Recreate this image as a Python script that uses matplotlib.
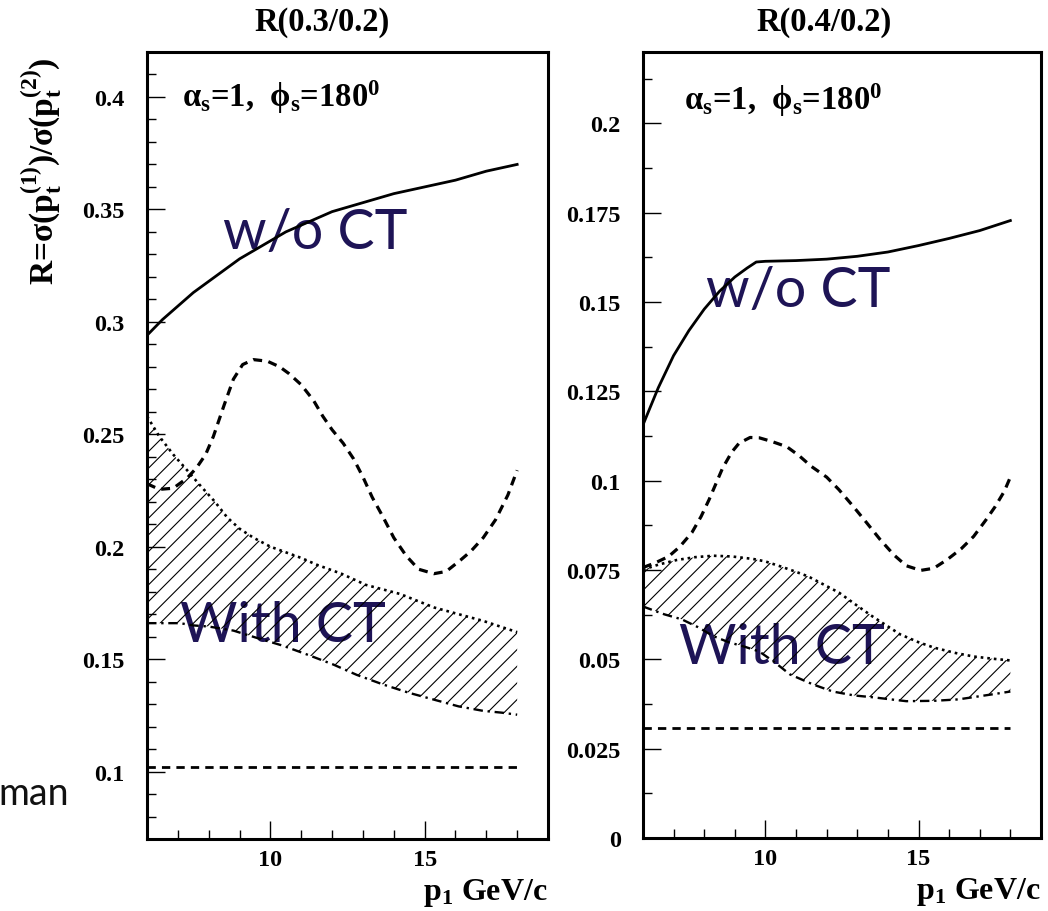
import matplotlib.pyplot as plt
from matplotlib.ticker import MultipleLocator, FuncFormatter

plt.rcParams['font.family'] = ['Liberation Serif', 'DejaVu Serif']
plt.rcParams['font.weight'] = 'bold'
plt.rcParams['mathtext.fontset'] = 'custom'
plt.rcParams['mathtext.rm'] = 'Liberation Serif'
plt.rcParams['mathtext.bf'] = 'Liberation Serif:bold'
plt.rcParams['mathtext.it'] = 'Liberation Serif:italic'
plt.rcParams['hatch.linewidth'] = 0.8

# ---- R(0.3/0.2) ----
x_wo_03 = [6, 6.5, 7, 7.5, 8, 8.5, 9, 9.5, 10, 10.5, 11, 11.5, 12, 12.5, 13, 14, 15, 16, 17, 18]
y_wo_03 = [0.294, 0.301, 0.307, 0.313, 0.318, 0.323, 0.328, 0.332, 0.336, 0.340, 0.343, 0.346,
           0.349, 0.351, 0.353, 0.357, 0.360, 0.363, 0.367, 0.370]

x_dash_03 = [6, 6.4, 6.85, 7.3, 7.6, 7.9, 8.15, 8.5, 8.8, 9.1, 9.45, 9.9, 10.3, 10.6, 11.0, 11.4,
             11.7, 12.0, 12.36, 12.7, 13.0, 13.3, 13.66, 14.0, 14.4, 14.8, 15.3, 15.7, 16.16, 16.5,
             16.9, 17.3, 17.7, 18.0]
y_dash_03 = [0.228, 0.2255, 0.226, 0.2305, 0.235, 0.241, 0.249, 0.263, 0.2745, 0.281, 0.2832, 0.2825,
             0.280, 0.277, 0.272, 0.265, 0.258, 0.252, 0.246, 0.239, 0.231, 0.222, 0.213, 0.204,
             0.196, 0.190, 0.188, 0.189, 0.194, 0.198, 0.204, 0.212, 0.223, 0.234]

x_up_03 = [6, 6.4, 6.85, 7.3, 7.7, 8.2, 8.6, 9.0, 9.45, 10.0, 10.4, 11.0, 11.5, 12.3, 13.1, 14.2,
           15.3, 16.1, 16.9, 18.0]
y_up_03 = [0.258, 0.249, 0.241, 0.234, 0.2276, 0.220, 0.213, 0.208, 0.204, 0.200, 0.198, 0.195,
           0.192, 0.188, 0.183, 0.179, 0.173, 0.170, 0.167, 0.162]

x_lo_03 = [6, 6.5, 7.07, 7.5, 8.0, 8.8, 9.5, 10.4, 11.2, 12.04, 12.8, 13.66, 14.5, 15.3, 16.1,
           16.9, 17.5, 18.0]
y_lo_03 = [0.166, 0.166, 0.166, 0.165, 0.1645, 0.1627, 0.1597, 0.156, 0.152, 0.1476, 0.143,
           0.1387, 0.135, 0.132, 0.129, 0.127, 0.1262, 0.1253]

x_flat = [6, 18]
y_flat_03 = [0.102, 0.102]

# ---- R(0.4/0.2) ----
x_wo_04 = [6, 6.5, 7, 7.5, 8, 8.5, 9, 9.4, 9.7, 10, 11, 12, 13, 14, 15, 16, 17, 18]
y_wo_04 = [0.1156, 0.126, 0.135, 0.142, 0.148, 0.153, 0.157, 0.1595, 0.1612, 0.1614, 0.1616,
           0.162, 0.1628, 0.164, 0.1658, 0.1678, 0.170, 0.1728]

x_dash_04 = [6.0, 6.4, 6.84, 7.2, 7.6, 7.9, 8.16, 8.4, 8.6, 8.9, 9.14, 9.5, 9.8, 10.2, 10.7, 11.1,
             11.5, 12.0, 12.4, 12.85, 13.3, 13.75, 14.2, 14.6, 15.07, 15.5, 15.95, 16.4, 16.8,
             17.2, 17.5, 17.8, 18.0]
y_dash_04 = [0.0757, 0.0770, 0.0788, 0.0815, 0.0855, 0.090, 0.0947, 0.0995, 0.1035, 0.108, 0.1105,
             0.1121, 0.112, 0.111, 0.1095, 0.107, 0.104, 0.101, 0.0975, 0.093, 0.0883, 0.0835,
             0.0792, 0.0762, 0.0749, 0.0755, 0.078, 0.081, 0.0844, 0.089, 0.0927, 0.097, 0.101]

x_up_04 = [6.0, 6.5, 7.1, 7.7, 8.3, 8.9, 9.6, 10.0, 10.5, 11.0, 11.4, 12.0, 12.4, 13.0, 13.5,
           14.4, 15.0, 15.5, 16.2, 16.8, 17.4, 18.0]
y_up_04 = [0.0751, 0.0765, 0.0778, 0.0786, 0.0790, 0.0788, 0.0781, 0.0774, 0.076, 0.0745,
           0.0732, 0.0705, 0.0687, 0.065, 0.062, 0.057, 0.0548, 0.0533, 0.0518, 0.0508,
           0.0502, 0.0497]

x_lo_04 = [6.0, 6.7, 7.27, 7.8, 8.3, 8.8, 9.3, 9.8, 10.3, 10.8, 11.55, 12.2, 12.9, 13.5, 14.6,
           15.5, 16.3, 17.4, 18.0]
y_lo_04 = [0.0648, 0.0626, 0.0612, 0.059, 0.0565, 0.0548, 0.0536, 0.0522, 0.0492, 0.0458,
           0.043, 0.041, 0.0399, 0.0394, 0.0383, 0.0384, 0.0388, 0.0402, 0.041]

y_flat_04 = [0.0307, 0.0307]

text_col = '#1e1456'


def style_axis(ax, ylim, ymajor, yminor):
    ax.set_xlim(6, 19)
    ax.set_ylim(*ylim)
    ax.xaxis.set_major_locator(MultipleLocator(5))
    ax.xaxis.set_minor_locator(MultipleLocator(1))
    ax.yaxis.set_major_locator(MultipleLocator(ymajor))
    ax.yaxis.set_minor_locator(MultipleLocator(yminor))
    ax.yaxis.set_major_formatter(FuncFormatter(lambda v, p: '%g' % round(v, 4)))
    ax.tick_params(which='both', direction='in', top=False, right=False, width=1.0)
    ax.tick_params(which='major', length=13, labelsize=17.5)
    ax.tick_params(which='minor', length=6.5)
    ax.tick_params(axis='y', pad=16)
    ax.tick_params(axis='x', pad=7)
    for s in ax.spines.values():
        s.set_linewidth(2.2)
    ax.text(1.0, -0.076, r'p$_\mathbf{1}$ GeV/c', transform=ax.transAxes,
            ha='right', va='baseline', fontsize=23, fontweight='bold')


def draw_panel(ax, xw, yw, xd, yd, xu, yu, xl, yl, yflat):
    band_x = list(xu) + list(xl[::-1])
    band_y = list(yu) + list(yl[::-1])
    ax.fill(band_x, band_y, facecolor='none', edgecolor='black', hatch='//',
            linewidth=0, zorder=3)
    ax.plot(xu, yu, color='black', lw=1.9, linestyle=(0, (1, 1.5)), zorder=4)
    ax.plot(xl, yl, color='black', lw=1.7, linestyle=(0, (4, 2, 1, 2)), zorder=4)
    ax.plot(xw, yw, color='black', lw=2.0, zorder=4)
    ax.plot(xd, yd, color='black', lw=2.3, linestyle=(0, (2.8, 2.0)), zorder=4)
    ax.plot(x_flat, yflat, color='black', lw=2.0, linestyle=(0, (3.0, 2.2)), zorder=4)


fig = plt.figure(figsize=(10.48, 9.12), dpi=100)
ax1 = fig.add_axes([0.1403, 0.0789, 0.3826, 0.863])
ax2 = fig.add_axes([0.6135, 0.0800, 0.3798, 0.862])

style_axis(ax1, (0.07, 0.42), 0.05, 0.01)
style_axis(ax2, (0.0, 0.22), 0.025, 0.0125)

draw_panel(ax1, x_wo_03, y_wo_03, x_dash_03, y_dash_03, x_up_03, y_up_03,
           x_lo_03, y_lo_03, y_flat_03)
draw_panel(ax2, x_wo_04, y_wo_04, x_dash_04, y_dash_04, x_up_04, y_up_04,
           x_lo_04, y_lo_04, y_flat_04)

label = r'α$_\mathbf{s}$=1,  ϕ$_\mathbf{s}$=180$^\mathbf{0}$'
ax1.text(7.14, 0.396, label, fontsize=23.5, ha='left', va='baseline')
ax2.text(7.34, 0.204, label, fontsize=23.5, ha='left', va='baseline')

ax1.text(8.47, 0.333, 'w/o CT', family='Lato', fontweight='normal', fontsize=40,
         color=text_col, ha='left', va='baseline', zorder=1)
ax2.text(8.06, 0.149, 'w/o CT', family='Lato', fontweight='normal', fontsize=40,
         color=text_col, ha='left', va='baseline', zorder=1)
ax1.text(7.07, 0.158, 'With CT', family='Lato', fontweight='normal', fontsize=40,
         color=text_col, ha='left', va='baseline', zorder=1)
ax2.text(7.17, 0.049, 'With CT', family='Lato', fontweight='normal', fontsize=40,
         color=text_col, ha='left', va='baseline', zorder=1)

fig.text(322 / 1048, 1 - 22 / 912, 'R(0.3/0.2)', ha='center', va='center',
         fontsize=23.5, fontweight='bold')
fig.text(824 / 1048, 1 - 22 / 912, 'R(0.4/0.2)', ha='center', va='center',
         fontsize=23.5, fontweight='bold')

fig.text(42 / 1048, 1 - 57 / 912,
         r'R=σ(p$_\mathbf{t}^\mathbf{(1)}$)/σ(p$_\mathbf{t}^\mathbf{(2)}$)',
         rotation=90, ha='center', va='top', fontsize=24)

fig.text(69 / 1048, 1 - 805 / 912, 'man', ha='right', va='baseline', family='Lato',
         fontweight='normal', fontsize=27, color='#111111')

fig.savefig('out.png', dpi=100)
